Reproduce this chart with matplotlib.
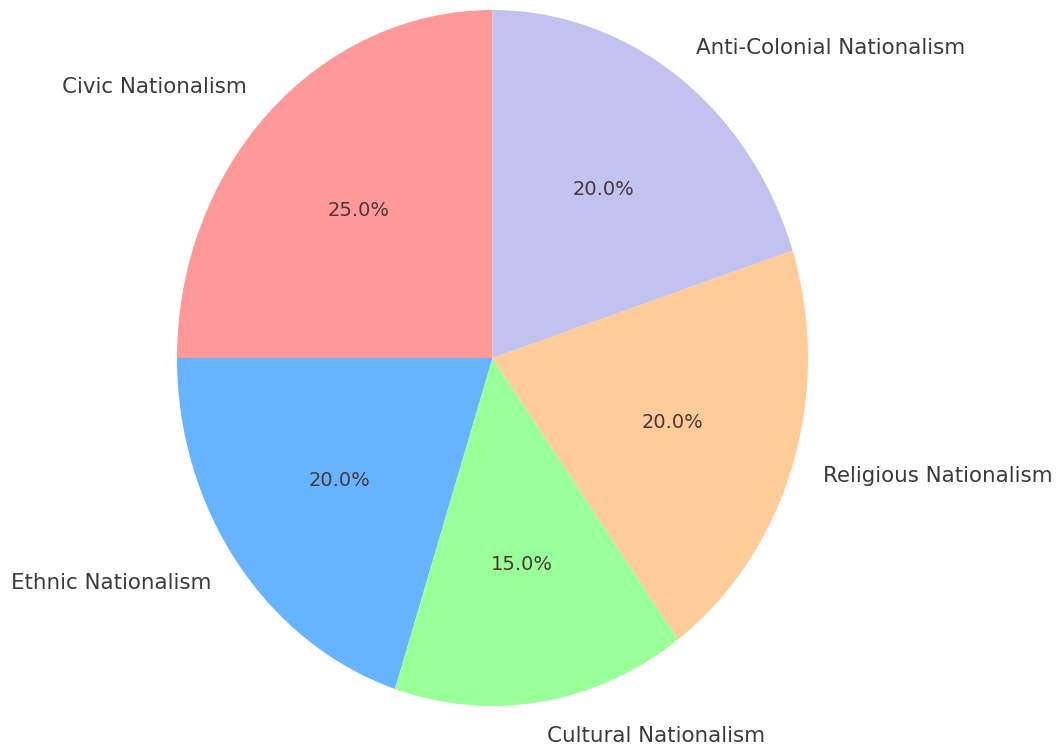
import matplotlib.pyplot as plt

labels = ['Civic Nationalism', 'Ethnic Nationalism', 'Cultural Nationalism',
          'Religious Nationalism', 'Anti-Colonial Nationalism']
sizes = [25, 20, 15, 20, 20]
colors = ['#ff9999', '#66b3ff', '#99ff99', '#ffcc99', '#c2c2f0']


def plot_pie():
    fig = plt.figure(figsize=(10.57, 7.46), dpi=100)
    # axes box fits the (slightly stretched) pie exactly
    ax = fig.add_axes([177 / 1057, 40 / 746, 631 / 1057, 696 / 746])
    wedges, texts, autotexts = ax.pie(sizes, labels=labels, colors=colors,
                                      autopct='%1.1f%%', startangle=90,
                                      labeldistance=1.1, pctdistance=0.6)
    for t in texts:
        t.set_fontsize(15.4)
        t.set_color('#3a3a3a')
    for t in autotexts:
        t.set_fontsize(14)
        t.set_color('#4a3838')
    ax.set_aspect('auto')
    ax.set_xlim(-1, 1)
    ax.set_ylim(-1, 1)
    fig.savefig('out.png', dpi=100)


if __name__ == "__main__":
    plot_pie()
